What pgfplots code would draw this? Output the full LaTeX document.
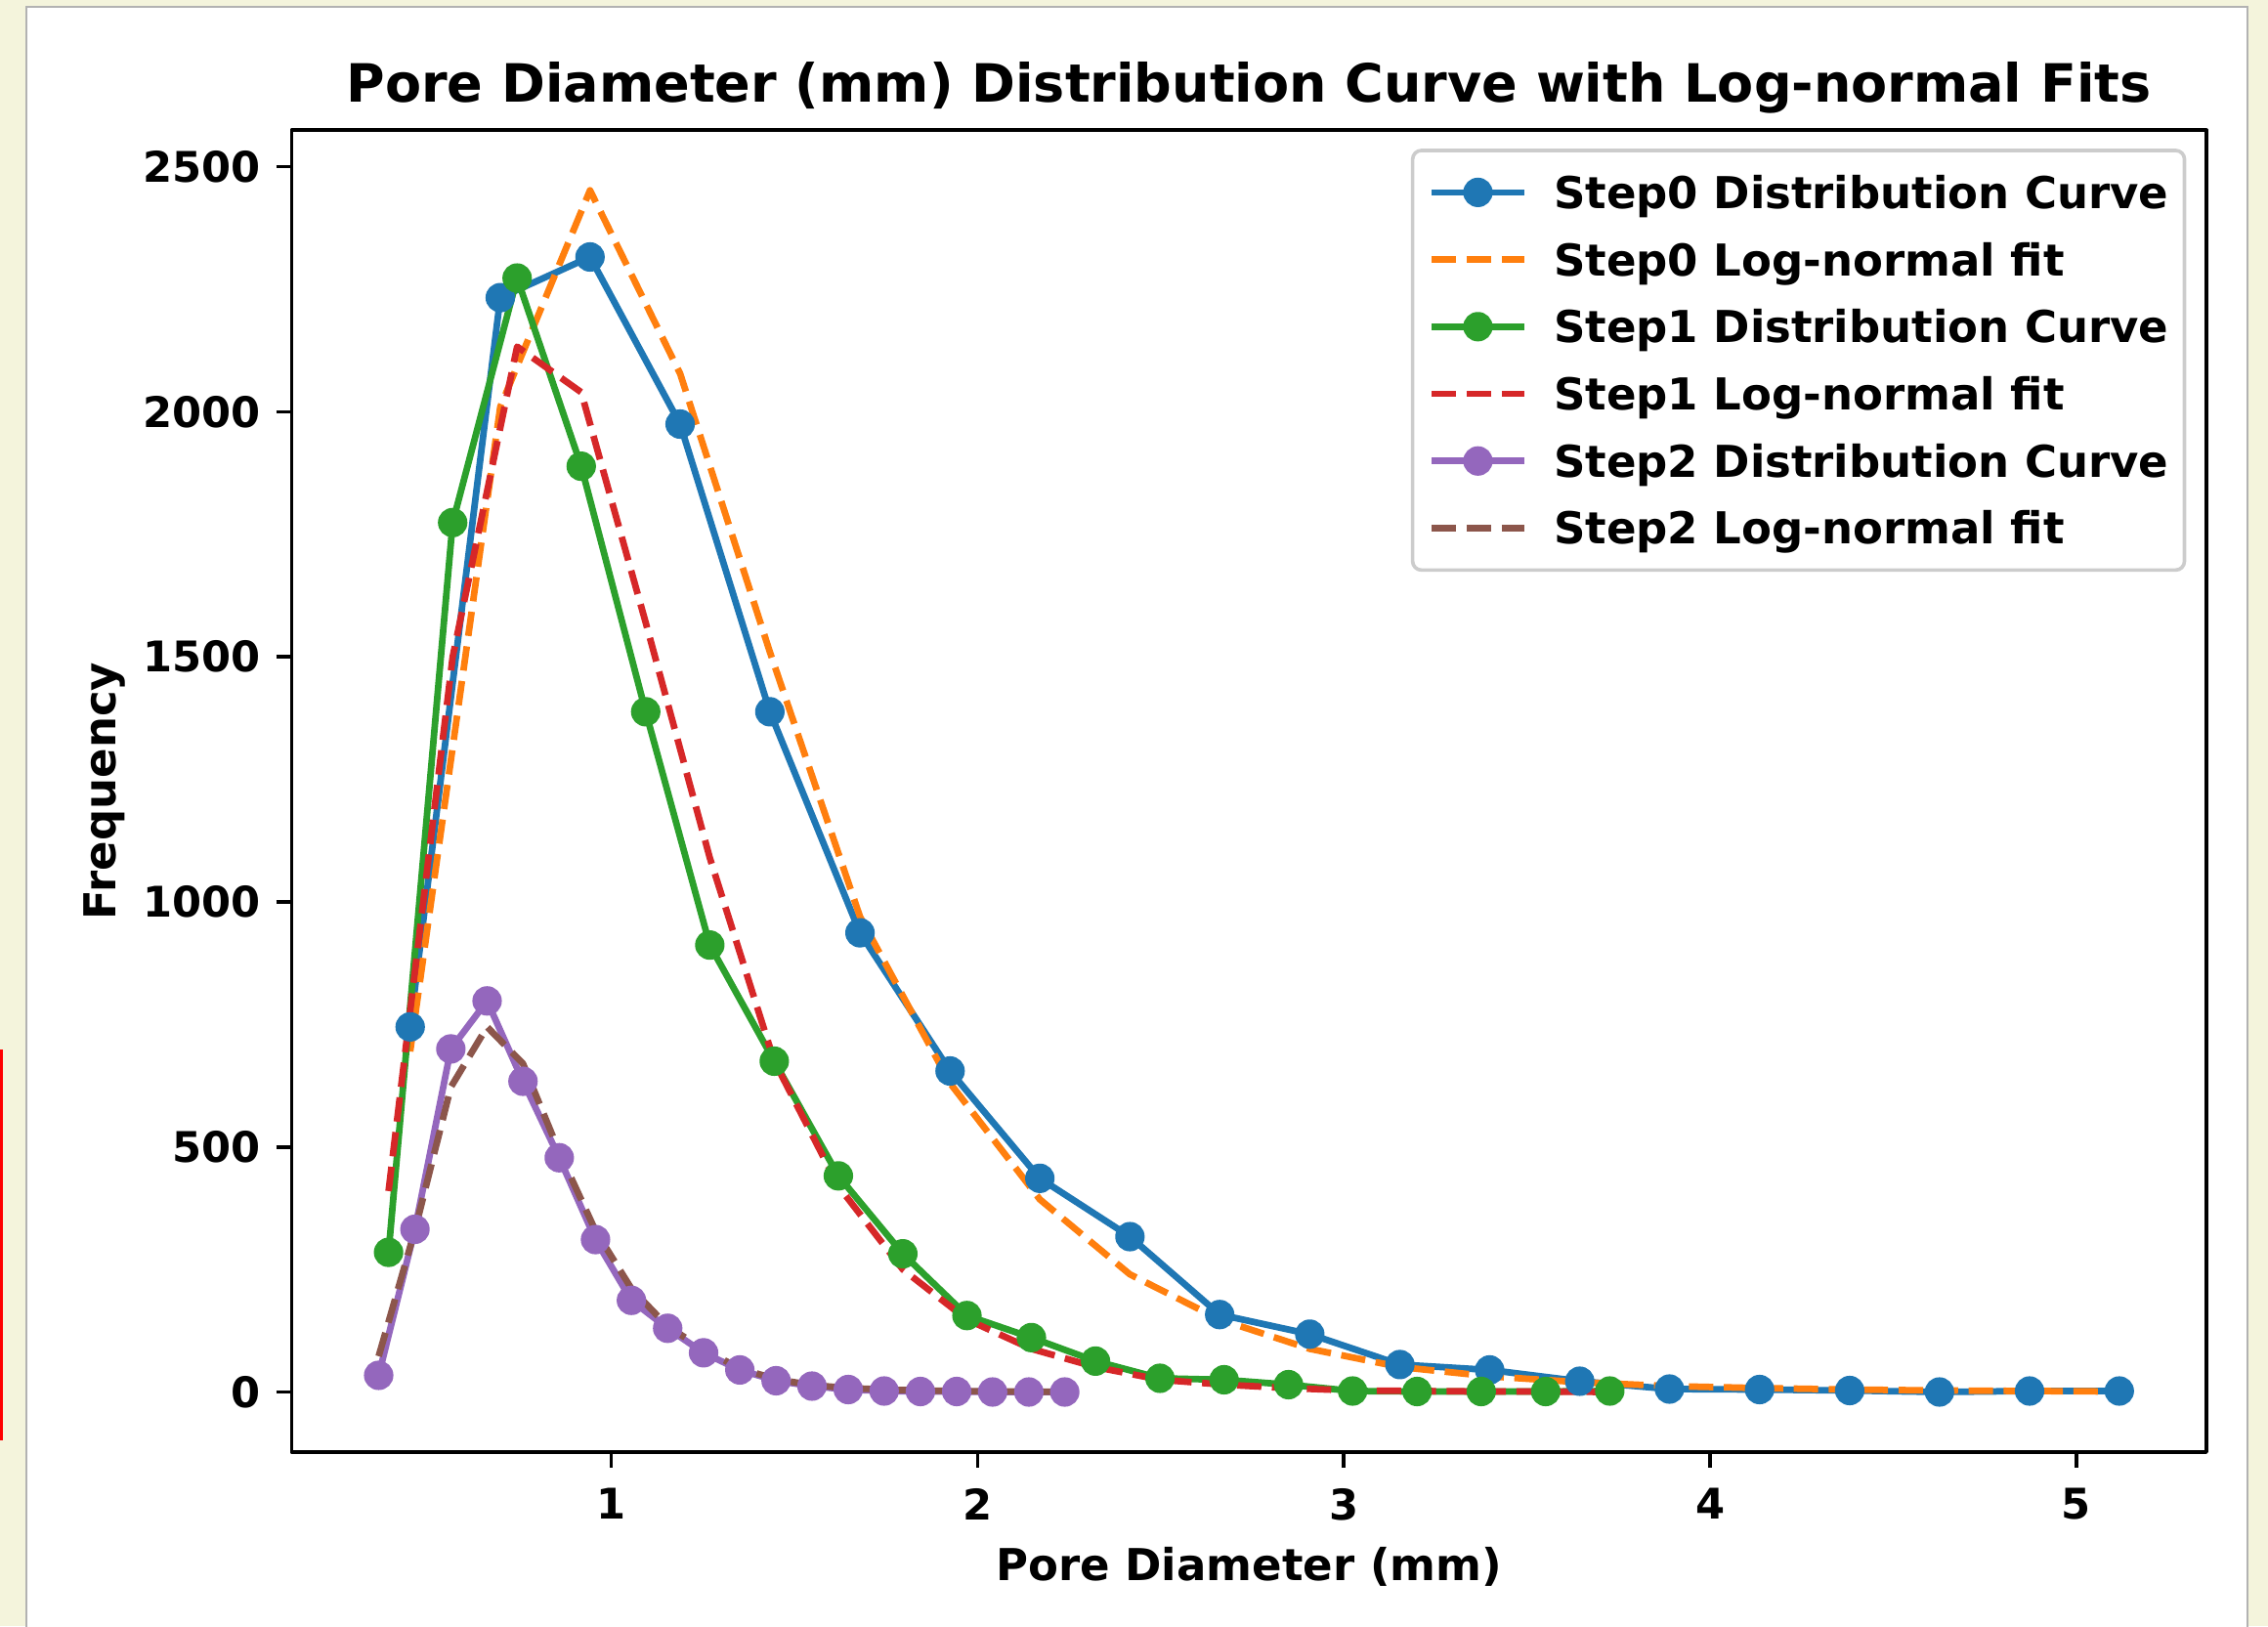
\documentclass[border=0pt]{standalone}
\usepackage{pgfplots}
\pgfplotsset{compat=1.18}
\usepackage{pgfplotstable}
\usepackage{fontspec}
\setmainfont{DejaVu Sans}

\definecolor{C0}{HTML}{1F77B4}
\definecolor{C1}{HTML}{FF7F0E}
\definecolor{C2}{HTML}{2CA02C}
\definecolor{C3}{HTML}{D62728}
\definecolor{C4}{HTML}{9467BD}
\definecolor{C5}{HTML}{8C564B}
\definecolor{bgbeige}{HTML}{F4F4DC}

\pgfplotstableread{
x y fit
0.451 745 695
0.697 2233 2010
0.942 2316 2452
1.188 1975 2078
1.433 1388 1510
1.679 937 970
1.925 655 630
2.170 436 393
2.416 317 240
2.661 158 148
2.907 118 88
3.153 56 51
3.398 45 32
3.644 22 20
3.889 6 12
4.135 5 8
4.381 3 5
4.626 0 3
4.872 2 2
5.117 2 1
}\stepzero

\pgfplotstableread{
x y fit
0.392 285 410
0.567 1774 1500
0.743 2273 2133
0.918 1889 2040
1.094 1388 1570
1.269 912 1090
1.445 675 675
1.620 441 420
1.796 282 250
1.971 156 148
2.147 111 88
2.322 63 51
2.498 28 25
2.673 25 15
2.849 15 8
3.024 2 3
3.200 1 2
3.375 1 1
3.551 1 1
3.726 2 0
}\stepone

\pgfplotstableread{
x y fit
0.365 34 73
0.464 332 330
0.562 700 622
0.661 798 745
0.759 634 670
0.858 478 490
0.957 311 329
1.055 187 211
1.154 130 134
1.252 80 87
1.351 45 48
1.450 23 26
1.548 12 14
1.647 5 8
1.745 2 5
1.844 1 3
1.943 1 2
2.041 0 1
2.140 0 1
2.238 0 0
}\steptwo

\begin{document}
\begin{tikzpicture}
% page background (screenshot frame)
\fill[bgbeige] (0,0) rectangle (515.78pt,369.78pt);
\filldraw[fill=white, draw=black!30, line width=0.3pt] (6.0pt,-1pt) rectangle (511.1pt,368.2pt);
\fill[red] (0,42.2pt) rectangle (0.6pt,131.1pt);

\begin{axis}[
  at={(66.29pt,39.56pt)}, anchor=south west,
  scale only axis, width=435.49pt, height=300.6pt,
  xmin=0.127, xmax=5.355, ymin=-122.6, ymax=2574.6,
  xtick={1,2,3,4,5}, ytick={0,500,1000,1500,2000,2500},
  /pgf/number format/1000 sep={},
  /pgf/number format/assume math mode=true,
  tick align=outside, major tick length=3.5pt,
  tick style={black, line width=0.8pt},
  axis line style={black, line width=0.8pt},
  xtick pos=bottom, ytick pos=left,
  tick label style={font=\fontsize{9.6}{11}\selectfont\bfseries},
  xticklabel style={anchor=north, inner sep=0pt, yshift=-4.6pt},
  yticklabel style={anchor=east, inner sep=0pt, xshift=-3.4pt},
  every axis title/.style={at={(axis description cs:0.5,1)}, yshift=6.5pt, anchor=base, font=\fontsize{12}{14}\selectfont\bfseries},
  every axis x label/.style={at={(axis description cs:0.5,0)}, yshift=-29.3pt, anchor=base, font=\fontsize{10}{12}\selectfont\bfseries},
  every axis y label/.style={at={(axis description cs:0,0.5)}, xshift=-40pt, rotate=90, anchor=base, font=\fontsize{10}{12}\selectfont\bfseries},
  title={Pore Diameter (mm) Distribution Curve with Log-normal Fits},
  xlabel={Pore Diameter (mm)},
  ylabel={Frequency},
  legend cell align=left,
  legend style={at={(1,1)}, anchor=north east, xshift=-4.6pt, yshift=-4.2pt,
    draw=black!20, line width=0.8pt, rounded corners=2pt, fill=white,
    inner xsep=3.6pt, inner ysep=1.9pt, row sep=0pt,
    font=\fontsize{10}{12}\selectfont\bfseries,
    nodes={inner sep=0pt, text height=11.28pt, text depth=3.99pt},
    /tikz/every odd column/.append style={column sep=6.0pt}},
  legend image code/.code={\draw[mark repeat=2, mark phase=2, #1] plot coordinates {(0pt,0pt) (10.5pt,0pt) (21pt,0pt)};},
  line join=round,
]
\addplot[C0, line width=1.5pt, mark=*, mark size=3.1pt, mark options={solid, line width=0.5pt}] table[x=x, y=y] {\stepzero};
\addlegendentry{Step0 Distribution Curve}
\addplot[C1, line width=1.5pt, dash pattern=on 5.55pt off 2.4pt] table[x=x, y=fit] {\stepzero};
\addlegendentry{Step0 Log-normal fit}
\addplot[C2, line width=1.5pt, mark=*, mark size=3.1pt, mark options={solid, line width=0.5pt}] table[x=x, y=y] {\stepone};
\addlegendentry{Step1 Distribution Curve}
\addplot[C3, line width=1.5pt, dash pattern=on 5.55pt off 2.4pt] table[x=x, y=fit] {\stepone};
\addlegendentry{Step1 Log-normal fit}
\addplot[C4, line width=1.5pt, mark=*, mark size=3.1pt, mark options={solid, line width=0.5pt}] table[x=x, y=y] {\steptwo};
\addlegendentry{Step2 Distribution Curve}
\addplot[C5, line width=1.5pt, dash pattern=on 5.55pt off 2.4pt] table[x=x, y=fit] {\steptwo};
\addlegendentry{Step2 Log-normal fit}
\end{axis}
\pgfresetboundingbox
\path[use as bounding box] (0,0) rectangle (515.78pt,369.78pt);
\end{tikzpicture}
\end{document}
